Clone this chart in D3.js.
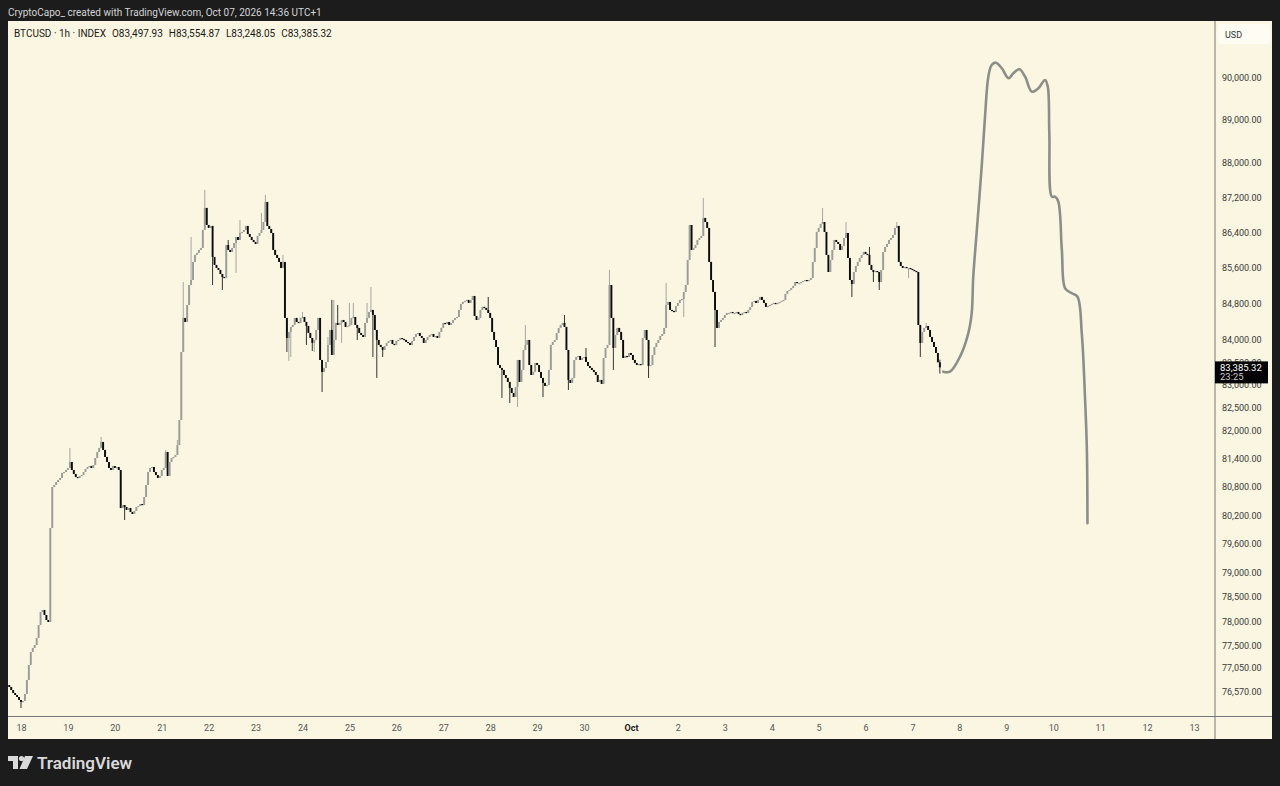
<!DOCTYPE html>
<html>
<head>
<meta charset="utf-8">
<script src="https://cdn.jsdelivr.net/npm/d3@7"></script>
<style>
html, body { margin: 0; padding: 0; background: #1c1c1c; }
svg { display: block; font-family: Roboto, "Noto Sans", sans-serif; }
</style>
</head>
<body>
<svg id="chart" width="1280" height="786"></svg>
<script>
// hourly closes, BTCUSD, from Sep 17 18:00 to Oct 7 14:00
var firstOpen = 76700;
var closes = [
76660,76599,76539,76499,76458,76398,76358,76378,76519,76801,
77105,77369,77451,77512,77655,77920,78188,78229,78126,78023,
77982,79935,80802,80845,80909,80951,80994,81100,81121,81164,
81207,81335,81164,81079,81015,80994,81036,81057,81121,81185,
81228,81250,81207,81271,81421,81550,81636,81765,81593,81443,
81335,81207,81164,81250,81207,81228,81164,80357,80420,80378,
80315,80357,80273,80231,80294,80378,80399,80441,80420,80589,
80845,81121,81207,81228,81121,81057,80994,81036,81164,81207,
81550,81036,81335,81421,81443,81486,81700,82239,83724,84477,
84388,84766,85213,85325,85731,85889,85934,86002,86047,86456,
86958,86569,86501,86547,85844,85663,85595,85550,85460,85393,
85370,86115,86002,85957,86047,86160,86296,86228,86387,86410,
86456,86547,86364,86296,86228,86183,86138,86319,86387,86456,
86637,87095,86547,86478,86387,86002,85889,85821,85731,85595,
85731,84477,84033,84166,84277,84321,84477,84388,84366,84477,
84499,84388,84299,84144,84033,83923,83989,84210,84477,83548,
83285,83373,83504,83879,84210,83658,83989,84366,84321,84366,
84432,84388,84277,84299,84321,84477,84499,84321,84255,84144,
84099,84055,84366,84477,84610,84655,84543,84210,83989,83879,
83834,83768,83856,83923,83967,83989,83901,83879,83967,83989,
84033,84011,83989,83945,83923,83879,83967,84055,84121,84144,
84077,84033,83923,83989,84055,84099,84121,84055,84077,84033,
84166,84255,84366,84343,84388,84321,84366,84432,84477,84499,
84655,84789,84833,84856,84878,84811,84878,84967,84521,84432,
84477,84655,84722,84700,84655,84588,84477,84166,83989,83834,
83438,83373,83329,83219,83154,83066,82935,82826,82738,82957,
83548,83066,83329,83768,83879,83989,83438,83219,83285,83482,
83438,83285,83154,83045,82979,83001,83329,83879,83945,83989,
84144,84255,84321,84366,84277,83768,83110,83045,83154,83548,
83614,83636,83548,83592,83614,83504,83416,83373,83329,83285,
83219,83066,83110,83023,83592,83812,83879,85213,84477,83812,
84099,84255,84166,83989,83592,83636,83614,83702,83658,83548,
83482,83438,83460,83438,84033,84210,83989,83416,83438,83658,
83834,83923,83989,84077,84121,84255,84766,84833,84655,84633,
84610,84744,84811,84878,84900,85057,85213,85776,86569,86002,
86047,86115,86228,86273,86319,86729,86637,86501,85731,85325,
85057,84655,84255,84388,84432,84477,84543,84588,84588,84610,
84588,84588,84610,84566,84543,84588,84610,84588,84655,84722,
84833,84856,84811,84878,84945,84878,84811,84722,84744,84766,
84789,84811,84789,84811,84833,84856,84878,85012,85079,85101,
85146,85190,85280,85258,85258,85280,85303,85325,85303,85325,
85370,85731,86047,86410,86501,86592,86637,86410,85889,85505,
85776,86002,86228,86183,86138,86002,86093,86273,86387,85821,
85325,85235,85505,85640,85731,85821,85889,85957,85912,85889,
85663,85550,85505,85528,85505,85280,85550,85957,86070,86138,
86228,86273,86341,86501,86547,85731,85640,85595,85618,85595,
85595,85573,85550,85528,85505,84321,83923,84166,84255,84299,
84210,84055,83945,83834,83702,83497.93,83385.32
];

// visible wicks [candle index, price]
var highWicks = [[31,81636],[47,81872],[80,81593],[86,81808],[89,85280],[93,86296],[100,87370],
  [112,86228],[118,86683],[129,86843],[131,87255],[140,85889],[150,84610],[163,84055],[165,84878],
  [166,84878],[168,84766],[174,84811],[176,84811],[183,84811],[185,85168],[245,84945],[264,84321],
  [284,84543],[295,83812],[307,85550],[336,85258],[355,87187],[416,86958],[428,86637],[440,86070],
  [454,86637],[469,84366],[476,83554.87]];
var lowWicks = [[6,76238],[59,80104],[104,85213],[109,85101],[116,85483],[142,83724],[143,83526],
  [144,83614],[152,83879],[155,83746],[156,83724],[160,82847],[170,83923],[178,83989],[186,83614],
  [188,83154],[191,83614],[252,82717],[256,82608],[260,82521],[273,82738],[286,82891],[309,83329],
  [327,83154],[345,84499],[361,83834],[431,84945],[442,85280],[445,85101],[460,85370],[466,83614],
  [476,83248.05]];

// hand drawn projection: hours after Sep 18 00:00, price
var forecastHours = [471.8,475.2,480.3,484.6,486.3,487.1,488.8,491.4,493.1,494.8,496.5,498.7,501.7,
  505.1,507.6,510.7,513.6,517.0,520.4,523.8,525.2,526.0,527.3,528.9,530.6,532.4,534.1,537.5,540.4,
  542.6,544.3,545.2,545.5];
var forecastPrices = [83292,83292,83620,84144,84588,85400,86387,87908,89072,90014,90292,90346,90213,
  89976,90095,90190,90014,89660,89740,89936,89778,88684,87216,87216,87101,86002,85139,85027,84951,
  84137,82673,81593,80034];

var priceTicks = [90000,89000,88000,87200,86400,85600,84800,84000,83500,83000,82500,82000,81400,
  80800,80200,79600,79000,78500,78000,77500,77050,76570];

var svg = d3.select("#chart");
var plotL = 8, plotR = 1215, plotT = 21, plotB = 716.5;

svg.append("rect").attr("width", 1280).attr("height", 786).attr("fill", "#1c1c1c");
svg.append("rect").attr("x", 8).attr("y", 21).attr("width", 1264).attr("height", 718).attr("fill", "#fbf6e1");

svg.append("text").attr("x", 8).attr("y", 15.5)
  .attr("fill", "#d4d4d4").attr("font-size", 10)
  .text("CryptoCapo_ created with TradingView.com, Oct 07, 2026 14:36 UTC+1");

var x = d3.scaleUtc()
  .domain([new Date(Date.UTC(2026, 8, 18)), new Date(Date.UTC(2026, 9, 13))])
  .range([21, 1194]);
var y = d3.scaleLog().domain([76077, 91318]).range([716, 22]);

var t0 = Date.UTC(2026, 8, 17, 18);
var candles = closes.map(function(c, i) {
  var o = i === 0 ? firstOpen : closes[i - 1];
  return {t: new Date(t0 + i * 3600e3), o: o, c: c, h: Math.max(o, c), l: Math.min(o, c)};
});
highWicks.forEach(function(d) { candles[d[0]].h = d[1]; });
lowWicks.forEach(function(d) { candles[d[0]].l = d[1]; });

svg.append("clipPath").attr("id", "plotclip").append("rect")
  .attr("x", plotL).attr("y", plotT).attr("width", plotR - plotL).attr("height", plotB - plotT);
var plot = svg.append("g").attr("clip-path", "url(#plotclip)");

function up(d) { return d.c >= d.o; }

plot.selectAll("line.wick").data(candles).enter().append("line")
  .attr("class", "wick")
  .attr("x1", function(d) { return x(d.t); })
  .attr("x2", function(d) { return x(d.t); })
  .attr("y1", function(d) { return y(d.h); })
  .attr("y2", function(d) { return y(d.l); })
  .attr("stroke", function(d) { return up(d) ? "#a6a6a3" : "#333"; })
  .attr("stroke-width", 1);

plot.selectAll("rect.body").data(candles).enter().append("rect")
  .attr("class", "body")
  .attr("x", function(d) { return x(d.t) - 0.95; })
  .attr("width", 1.9)
  .attr("y", function(d) { return y(Math.max(d.o, d.c)); })
  .attr("height", function(d) { return Math.max(1.2, Math.abs(y(d.o) - y(d.c))); })
  .attr("fill", function(d) { return up(d) ? "#9c9c99" : "#0c0c0c"; });

var forecast = forecastHours.map(function(h, i) {
  return {t: new Date(Date.UTC(2026, 8, 18) + h * 3600e3), p: forecastPrices[i]};
});
plot.append("path").datum(forecast)
  .attr("fill", "none").attr("stroke", "#8d8d8a").attr("stroke-width", 2.6)
  .attr("stroke-linecap", "round").attr("stroke-linejoin", "round")
  .attr("d", d3.line().curve(d3.curveCatmullRom.alpha(0.5))
    .x(function(d) { return x(d.t); }).y(function(d) { return y(d.p); }));

// legend line
var legend = svg.append("text").attr("x", 14).attr("y", 36.5)
  .attr("fill", "#1a1a1a").attr("font-size", 10);
legend.append("tspan").text("BTCUSD · 1h · INDEX");
[["O", "83,497.93"], ["H", "83,554.87"], ["L", "83,248.05"], ["C", "83,385.32"]].forEach(function(d) {
  legend.append("tspan").attr("dx", 6).text(d[0] + d[1]);
});

// separators
svg.append("line").attr("x1", plotR).attr("x2", plotR).attr("y1", 21).attr("y2", 739)
  .attr("stroke", "#777").attr("stroke-width", 1);
svg.append("line").attr("x1", 8).attr("x2", 1272).attr("y1", plotB).attr("y2", plotB)
  .attr("stroke", "#777").attr("stroke-width", 1);

// price axis
var yAxis = svg.append("g").attr("transform", "translate(" + plotR + ",0)")
  .call(d3.axisRight(y).tickValues(priceTicks).tickSize(0).tickPadding(7)
    .tickFormat(d3.format(",.2f")));
yAxis.select(".domain").remove();
yAxis.selectAll("text").attr("fill", "#3a3a3a").attr("font-size", 9)
  .attr("font-family", "Roboto, 'Noto Sans', sans-serif");

// time axis
var days = d3.utcDay.range(new Date(Date.UTC(2026, 8, 18)), new Date(Date.UTC(2026, 9, 14)));
var xAxis = svg.append("g").attr("transform", "translate(0," + plotB + ")")
  .call(d3.axisBottom(x).tickValues(days).tickSize(0).tickPadding(8)
    .tickFormat(function(d) { return d.getUTCDate() === 1 ? "Oct" : d.getUTCDate(); }));
xAxis.select(".domain").remove();
xAxis.selectAll("text").attr("font-size", 9)
  .attr("font-family", "Roboto, 'Noto Sans', sans-serif")
  .attr("font-weight", function(d) { return d.getUTCDate() === 1 ? "bold" : null; })
  .attr("fill", function(d) { return d.getUTCDate() === 1 ? "#222" : "#555"; });

// USD label
svg.append("rect").attr("x", 1218).attr("y", 24).attr("width", 52).attr("height", 20)
  .attr("rx", 3).attr("fill", "#fefcf3");
svg.append("text").attr("x", 1225).attr("y", 37.5).attr("fill", "#333").attr("font-size", 9).text("USD");

// last price tag
var last = closes[closes.length - 1];
var tagY = y(last);
svg.append("rect").attr("x", plotR).attr("y", tagY - 6).attr("width", 53).attr("height", 22).attr("fill", "#000");
svg.append("text").attr("x", 1220).attr("y", tagY + 3.5).attr("fill", "#fff").attr("font-size", 9.5)
  .text(d3.format(",.2f")(last));
svg.append("text").attr("x", 1220).attr("y", tagY + 13).attr("fill", "#ccc").attr("font-size", 9.5)
  .text("23:25");

// TradingView logo
var logo = svg.append("g").attr("fill", "#d9d9d9");
logo.append("path").attr("d", "M8,756 H18 V769 H13 V761 H8 Z");
logo.append("circle").attr("cx", 21.5).attr("cy", 758.5).attr("r", 2.6);
logo.append("path").attr("d", "M25,756 H33 L27,769 H19.5 Z");
logo.append("text").attr("x", 37).attr("y", 769).attr("font-size", 17).attr("font-weight", 600)
  .attr("fill", "#d9d9d9").text("TradingView");
</script>
</body>
</html>
